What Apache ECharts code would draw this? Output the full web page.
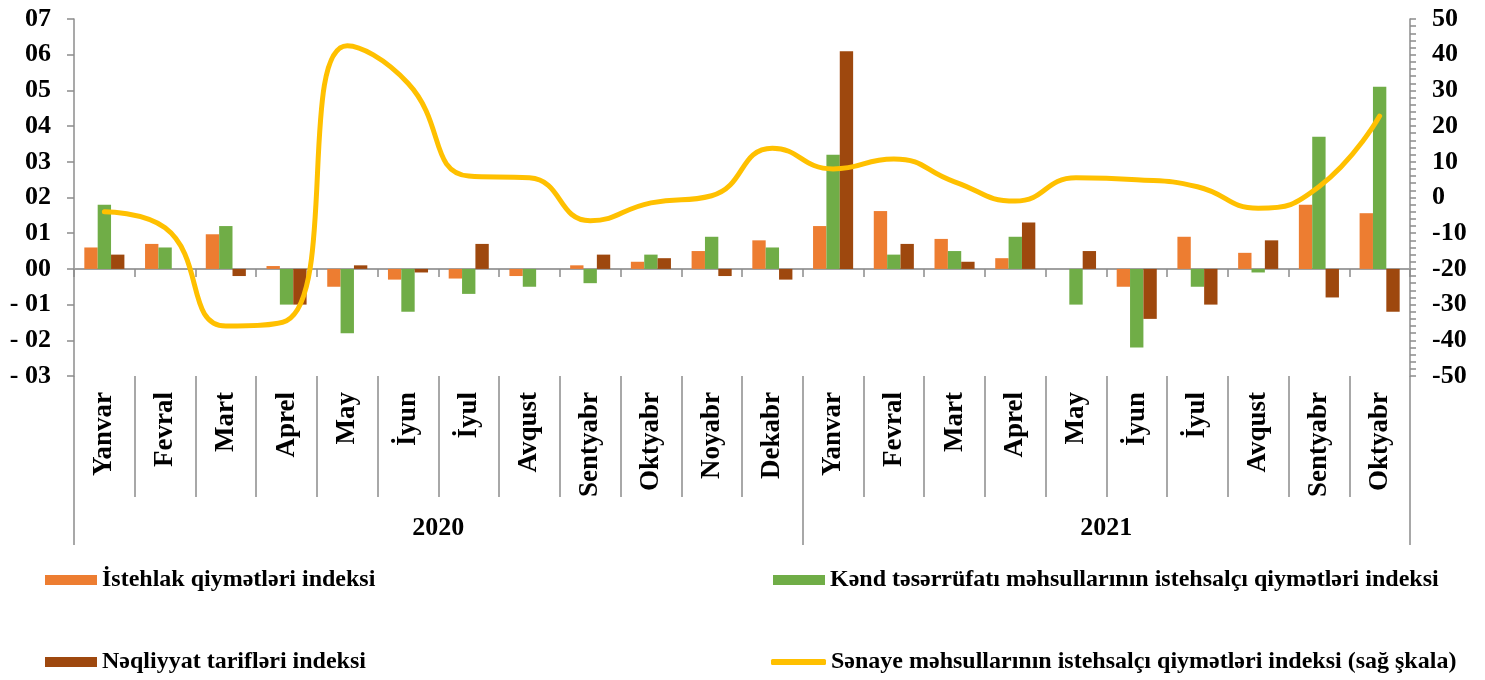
<!DOCTYPE html>
<html>
<head>
<meta charset="utf-8">
<script src="https://cdn.jsdelivr.net/npm/echarts@6/dist/echarts.min.js"></script>
<style>
  html, body { margin: 0; padding: 0; background: #ffffff; }
  #chart { width: 1485px; height: 680px; }
</style>
</head>
<body>
<div id="chart"></div>
<script>
const months = [
  "Yanvar", "Fevral", "Mart", "Aprel", "May", "İyun", "İyul", "Avqust",
  "Sentyabr", "Oktyabr", "Noyabr", "Dekabr",
  "Yanvar", "Fevral", "Mart", "Aprel", "May", "İyun", "İyul", "Avqust",
  "Sentyabr", "Oktyabr",
];
const years = ["2020", "2021"];
const monthsPerYear = [12, 10];

const consumerPrices = [0.6, 0.7, 0.97, 0.08, -0.5, -0.3, -0.27, -0.2, 0.1, 0.2, 0.5, 0.8,
  1.2, 1.62, 0.84, 0.3, 0, -0.5, 0.9, 0.45, 1.8, 1.56];
const agriPrices = [1.8, 0.6, 1.2, -1.0, -1.8, -1.2, -0.7, -0.5, -0.4, 0.4, 0.9, 0.6,
  3.2, 0.4, 0.5, 0.9, -1.0, -2.2, -0.5, -0.1, 3.7, 5.1];
const transportTariffs = [0.4, 0, -0.2, -1.0, 0.1, -0.1, 0.7, 0, 0.4, 0.3, -0.2, -0.3,
  6.1, 0.7, 0.2, 1.3, 0.5, -1.4, -1.0, 0.8, -0.8, -1.2];
const industryPrices = [-4, -8.5, -36, -34.5, 42.5, 32, 6, 5.5, -6.5, -1.5, 0.5, 13.8,
  8, 10.8, 4.4, -1, 5.5, 5, 3, -3, 3, 22.8];

const seriesNames = [
  "İstehlak qiymətləri indeksi",
  "Kənd təsərrüfatı məhsullarının istehsalçı qiymətləri indeksi",
  "Nəqliyyat tarifləri indeksi",
  "Sənaye məhsullarının istehsalçı qiymətləri indeksi (sağ şkala)",
];

const FONT = "Liberation Serif";
const AXIS_GRAY = "#8c8c8c";

// year label positions: middle of each year's block of months
const yearMid = [];
let startIdx = 0;
monthsPerYear.forEach((n) => {
  yearMid.push(startIdx + n / 2);
  startIdx += n;
});
const yearEdges = [0, monthsPerYear[0], months.length];

function leftLabel(v) {
  if (v < 0) {
    return "- 0" + Math.abs(v);
  }
  return "0" + v;
}

function legendAt(name, left, top, extra) {
  return Object.assign({
    data: [name],
    left,
    top,
    padding: 0,
    itemWidth: 52,
    itemHeight: 10,
    icon: "rect",
    selectedMode: false,
    textStyle: { fontFamily: FONT, fontWeight: "bold", fontSize: 24, color: "#000" },
  }, extra || {});
}

const chart = echarts.init(document.getElementById("chart"), null, { renderer: "canvas" });

chart.setOption({
  animation: false,
  backgroundColor: "#ffffff",
  grid: { left: 74, right: 75, top: 19, bottom: 304, containLabel: false },
  legend: [
    legendAt(seriesNames[0], 45, 568),
    legendAt(seriesNames[1], 773, 568),
    legendAt(seriesNames[2], 45, 650),
    legendAt(seriesNames[3], 771, 650, { icon: "roundRect", itemWidth: 55, itemHeight: 6 }),
  ],
  xAxis: [
    {
      // zero line with small ticks
      type: "category",
      data: months,
      position: "bottom",
      axisLine: { show: true, onZero: true, onZeroAxisIndex: 0, lineStyle: { color: "#a0a0a0", width: 2 } },
      axisTick: { show: true, interval: 0, length: 8, lineStyle: { color: AXIS_GRAY, width: 1.5 } },
      axisLabel: { show: false },
      splitLine: { show: false },
    },
    {
      // month labels with divider lines
      type: "category",
      data: months,
      position: "bottom",
      axisLine: { show: false, onZero: false },
      axisTick: { show: true, interval: 0, length: 121, lineStyle: { color: AXIS_GRAY, width: 1.5 } },
      axisLabel: {
        interval: 0,
        rotate: 90,
        margin: 16,
        fontFamily: FONT,
        fontWeight: "bold",
        fontSize: 27,
        color: "#000",
      },
      splitLine: { show: false },
    },
    {
      // year labels and year dividers
      type: "value",
      min: 0,
      max: months.length,
      position: "bottom",
      axisLine: { show: false, onZero: false },
      axisTick: { show: true, customValues: yearEdges, length: 169, lineStyle: { color: AXIS_GRAY, width: 1.5 } },
      axisLabel: {
        customValues: yearMid,
        margin: 139,
        formatter: (v) => {
          const i = yearMid.indexOf(v);
          return i >= 0 ? years[i] : "";
        },
        fontFamily: FONT,
        fontWeight: "bold",
        fontSize: 26,
        color: "#000",
      },
      splitLine: { show: false },
    },
  ],
  yAxis: [
    {
      type: "value",
      min: -3,
      max: 7,
      interval: 1,
      position: "left",
      axisLine: { show: true, lineStyle: { color: AXIS_GRAY, width: 1.5 } },
      axisTick: { show: true, length: 7, lineStyle: { color: AXIS_GRAY, width: 1.5 } },
      axisLabel: {
        margin: 23,
        formatter: leftLabel,
        fontFamily: FONT,
        fontWeight: "bold",
        fontSize: 26,
        color: "#000",
      },
      splitLine: { show: false },
    },
    {
      type: "value",
      min: -50,
      max: 50,
      interval: 10,
      position: "right",
      axisLine: { show: true, lineStyle: { color: AXIS_GRAY, width: 1.5 } },
      axisTick: { show: true, length: 6, lineStyle: { color: AXIS_GRAY, width: 1.5 } },
      minorTick: { show: true, splitNumber: 5, length: 6, lineStyle: { color: AXIS_GRAY, width: 1.5 } },
      axisLabel: {
        margin: 22,
        fontFamily: FONT,
        fontWeight: "bold",
        fontSize: 26,
        color: "#000",
      },
      splitLine: { show: false },
    },
  ],
  series: [
    {
      name: seriesNames[0],
      type: "bar",
      xAxisIndex: 0,
      yAxisIndex: 0,
      data: consumerPrices,
      barGap: "0%",
      barCategoryGap: "34%",
      itemStyle: { color: "#ED7D31" },
    },
    {
      name: seriesNames[1],
      type: "bar",
      xAxisIndex: 0,
      yAxisIndex: 0,
      data: agriPrices,
      barGap: "0%",
      barCategoryGap: "34%",
      itemStyle: { color: "#70AD47" },
    },
    {
      name: seriesNames[2],
      type: "bar",
      xAxisIndex: 0,
      yAxisIndex: 0,
      data: transportTariffs,
      barGap: "0%",
      barCategoryGap: "34%",
      itemStyle: { color: "#9E480E" },
    },
    {
      name: seriesNames[3],
      type: "line",
      xAxisIndex: 0,
      yAxisIndex: 1,
      data: industryPrices,
      smooth: 0.5,
      symbol: "none",
      showSymbol: false,
      z: 5,
      lineStyle: { color: "#FFC000", width: 5, cap: "round" },
      itemStyle: { color: "#FFC000" },
    },
  ],
});
</script>
</body>
</html>
